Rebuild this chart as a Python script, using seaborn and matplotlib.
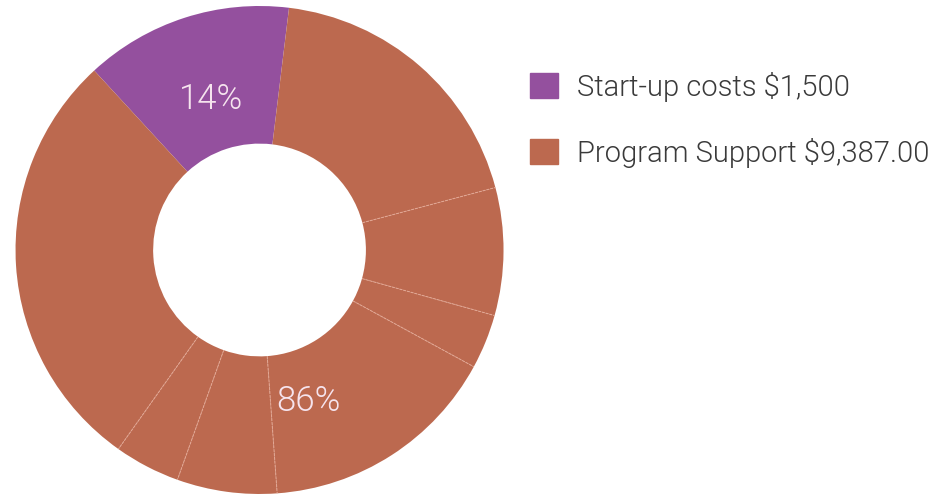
import numpy as np
import matplotlib
matplotlib.use("Agg")
import matplotlib.pyplot as plt
import matplotlib.patches as mpatches
import seaborn as sns

# DATA
groups = ["Start-up costs", "Program Support"]
group_labels = ["Start-up costs $1,500", "Program Support $9,387.00"]
group_totals = [1500, 9387]
# line items inside program support
support_items = [2063, 920, 393, 1732, 720, 474, 3085]

# STYLE
PURPLE = "#94509e"
ORANGE = "#bc694f"
SEP = "#e3a895"

sns.set_theme(style="white")
plt.rcParams["font.family"] = ["Roboto", "DejaVu Sans"]

values = [group_totals[0]] + support_items
colors = [PURPLE] + [ORANGE] * len(support_items)

fig = plt.figure(figsize=(9.47, 4.94), dpi=100)
ax = fig.add_axes([0.0164, 0.0, 0.5153, 0.9879])

start = 132.65
inner = 0.436
ax.pie(values, colors=colors, startangle=start, counterclock=False,
       radius=1.0, wedgeprops=dict(width=1 - inner, linewidth=0))

# thin separators between the program support items
total = sum(values)
cum = np.cumsum(values)
for c in cum[1:-1]:
    ang = np.deg2rad(start - 360 * c / total)
    ax.plot([inner * np.cos(ang), np.cos(ang)], [inner * np.sin(ang), np.sin(ang)],
            color=SEP, lw=0.7, ls=(0, (3, 1)))

# group percentage labels
grand = sum(group_totals)
edge = 0
for g, tot in zip(groups, group_totals):
    mid = edge + tot / 2
    ang = np.deg2rad(start - 360 * mid / grand)
    r = 0.65
    ax.text(r * np.cos(ang), r * np.sin(ang), f"{round(100 * tot / grand)}%",
            ha="center", va="center", fontsize=25, color="#f6e4ee",
            fontweight=300)
    edge += tot

ax.set_xlim(-1, 1)
ax.set_ylim(-1, 1)
ax.set_aspect("equal")
ax.axis("off")

handles = [mpatches.Patch(color=c, label=l) for c, l in zip([PURPLE, ORANGE], group_labels)]
leg = fig.legend(handles=handles, loc="upper left", bbox_to_anchor=(0.5597, 0.855),
                 frameon=False, fontsize=21, handlelength=0.95, handleheight=0.95,
                 handletextpad=0.65, labelspacing=1.24, labelcolor="#3a3a3a",
                 borderpad=0, borderaxespad=0)
for t in leg.get_texts():
    t.set_fontweight(300)

plt.savefig("out.png", dpi=100)
